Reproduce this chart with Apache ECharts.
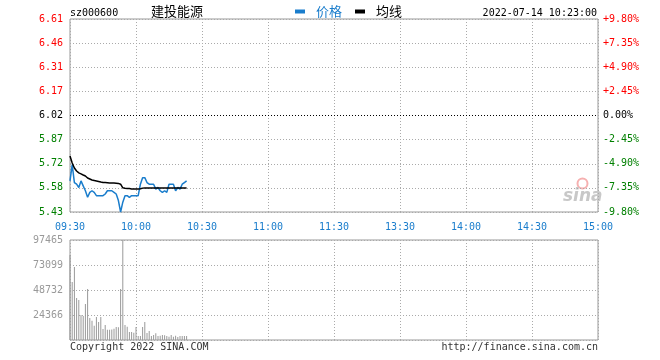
<!DOCTYPE html>
<html>
<head>
<meta charset="utf-8">
<script src="https://cdn.jsdelivr.net/npm/echarts@6/dist/echarts.min.js"></script>
<style>
html,body{margin:0;padding:0;background:#fff;}
#chart{width:660px;height:360px;}
</style>
</head>
<body>
<div id="chart"></div>
<script>
// ---- data ----
const stockCode = 'sz000600';
const stockName = '建投能源';
const dateTime = '2022-07-14 10:23:00';
const prevClose = 6.02;
const timeLabels = ['09:30','10:00','10:30','11:00','11:30','13:30','14:00','14:30','15:00'];
const priceTicks = ['5.43','5.58','5.72','5.87','6.02','6.17','6.31','6.46','6.61'];
const pctTicks = ['-9.80%','-7.35%','-4.90%','-2.45%','0.00%','+2.45%','+4.90%','+7.35%','+9.80%'];
const volTicks = ['','24366','48732','73099','97465'];
const volMax = 97465;
const price = [5.62,5.72,5.61,5.60,5.58,5.62,5.59,5.56,5.52,5.55,
  5.56,5.55,5.53,5.53,5.53,5.53,5.54,5.56,5.56,5.56,
  5.55,5.54,5.50,5.43,5.49,5.53,5.53,5.52,5.53,5.53,
  5.53,5.53,5.60,5.64,5.64,5.61,5.60,5.60,5.60,5.57,
  5.58,5.56,5.55,5.56,5.55,5.60,5.60,5.60,5.56,5.58,
  5.57,5.60,5.61,5.62];
const avgPrice = [5.772,5.730,5.699,5.681,5.669,5.663,5.656,5.650,5.638,5.632,
  5.626,5.623,5.620,5.617,5.613,5.611,5.610,5.609,5.608,5.607,
  5.607,5.606,5.605,5.600,5.578,5.575,5.574,5.573,5.571,5.571,
  5.571,5.571,5.572,5.576,5.577,5.577,5.577,5.577,5.577,5.577,
  5.577,5.577,5.577,5.577,5.577,5.577,5.577,5.577,5.577,5.577,
  5.577,5.577,5.577,5.577];
const volume = [82800,56500,71200,41000,39000,24300,23500,35000,49800,21500,
  18700,14000,22500,17500,22500,10700,14600,10000,10000,10200,
  11000,12700,12500,49800,97465,14500,12800,7800,7800,7100,
  12700,3900,3900,12700,17500,6800,8800,3900,4900,6500,
  3900,4100,4900,4700,3900,3200,4800,3200,4200,2900,
  3900,3900,3900,4000];

// ---- chart ----
const MONO = 'DejaVu Sans Mono';
const CJK = 'Noto Sans CJK SC';
const BLUE = '#1a7dcc';
const pct = p => (p / prevClose - 1) * 100;
const pctIdx = v => Math.round((v + 9.8) / 2.45);
const tickStyle = idx => idx > 4 ? 'r' : (idx === 4 ? 'k' : 'g');
const rich = {
  r: {color: '#ff0000', fontFamily: MONO, fontSize: 10},
  k: {color: '#000000', fontFamily: MONO, fontSize: 10},
  g: {color: '#008000', fontFamily: MONO, fontSize: 10}
};
const gridLine = {show: true, lineStyle: {color: '#aaa', type: [1, 2], width: 1}};

const chart = echarts.init(document.getElementById('chart'), null, {renderer: 'canvas'});
chart.setOption({
  animation: false,
  backgroundColor: '#fff',
  title: [
    {text: stockCode, left: 70, top: 8, padding: 0, textStyle: {fontFamily: MONO, fontSize: 10, fontWeight: 'normal', color: '#000'}},
    {text: stockName, left: 151, top: 5, padding: 0, textStyle: {fontFamily: CJK, fontSize: 13, fontWeight: 'normal', color: '#000'}},
    {text: dateTime, right: 63, top: 8, padding: 0, textStyle: {fontFamily: MONO, fontSize: 10, fontWeight: 'normal', color: '#000'}}
  ],
  legend: {
    left: 295, top: 5, padding: 0, icon: 'rect', itemWidth: 10, itemHeight: 4, itemGap: 13,
    textStyle: {fontFamily: CJK, fontSize: 13, padding: [0, 0, 0, 6]},
    data: [
      {name: '价格', textStyle: {color: BLUE}},
      {name: '均线', textStyle: {color: '#000'}}
    ]
  },
  grid: [
    {left: 70, right: 62, top: 19, height: 193, show: true, borderColor: '#999', borderWidth: 1},
    {left: 70, right: 62, top: 240, height: 100, show: true, borderColor: '#999', borderWidth: 1}
  ],
  xAxis: [
    {type: 'value', gridIndex: 0, min: 0, max: 240, interval: 30,
      axisLine: {show: false}, axisTick: {show: false}, splitLine: gridLine,
      axisLabel: {margin: 10, color: BLUE, fontFamily: MONO, fontSize: 10,
        formatter: v => timeLabels[Math.round(v / 30)] || ''}},
    {type: 'value', gridIndex: 1, min: 0, max: 240, interval: 30,
      axisLine: {show: false}, axisTick: {show: false}, splitLine: gridLine,
      axisLabel: {show: false}}
  ],
  yAxis: [
    {type: 'value', gridIndex: 0, min: -9.8, max: 9.8, interval: 2.45, position: 'left',
      axisLine: {show: false}, axisTick: {show: false}, splitLine: gridLine,
      axisLabel: {margin: 7, rich: rich, formatter: v => { const i = pctIdx(v); return '{' + tickStyle(i) + '|' + priceTicks[i] + '}'; }}},
    {type: 'value', gridIndex: 0, min: -9.8, max: 9.8, interval: 2.45, position: 'right',
      axisLine: {show: false}, axisTick: {show: false}, splitLine: {show: false},
      axisLabel: {margin: 5, rich: rich, formatter: v => { const i = pctIdx(v); return '{' + tickStyle(i) + '|' + pctTicks[i] + '}'; }}},
    {type: 'value', gridIndex: 1, min: 0, max: volMax, interval: volMax / 4,
      axisLine: {show: false}, axisTick: {show: false}, splitLine: gridLine,
      axisLabel: {margin: 7, color: '#999', fontFamily: MONO, fontSize: 10,
        formatter: v => volTicks[Math.round(v / (volMax / 4))] || ''}}
  ],
  series: [
    {name: '价格', type: 'line', xAxisIndex: 0, yAxisIndex: 0, showSymbol: false, symbol: 'none',
      lineStyle: {color: BLUE, width: 1.5}, itemStyle: {color: BLUE},
      data: price.map((p, i) => [i, pct(p)]),
      markLine: {silent: true, symbol: 'none', label: {show: false},
        lineStyle: {color: '#000', type: [1, 2], width: 1}, data: [{yAxis: 0}]}},
    {name: '均线', type: 'line', xAxisIndex: 0, yAxisIndex: 0, showSymbol: false, symbol: 'none',
      lineStyle: {color: '#000', width: 1.5}, itemStyle: {color: '#000'},
      data: avgPrice.map((p, i) => [i, pct(p)])},
    {name: '成交量', type: 'bar', xAxisIndex: 1, yAxisIndex: 2, barWidth: 1,
      itemStyle: {color: '#999'},
      data: volume.map((v, i) => [i, v])}
  ],
  graphic: [
    {type: 'circle', left: 575, top: 176, shape: {r: 5}, style: {fill: 'none', stroke: '#f6b0b0', lineWidth: 2}},
    {type: 'text', left: 563, top: 188, style: {text: 'sina', fill: '#c8c8c8', font: 'italic bold 17px "DejaVu Sans"'}},
    {type: 'text', left: 70, top: 342, style: {text: 'Copyright 2022 SINA.COM', fill: '#333', font: '10px "DejaVu Sans Mono"'}},
    {type: 'text', right: 62, top: 342, style: {text: 'http://finance.sina.com.cn', fill: '#333', font: '10px "DejaVu Sans Mono"'}}
  ]
});
</script>
</body>
</html>
